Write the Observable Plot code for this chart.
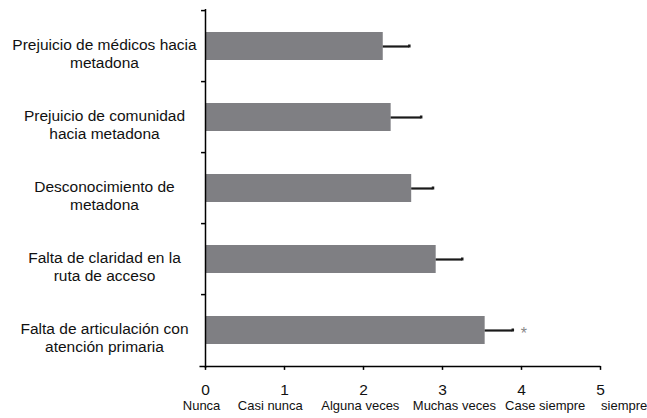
<!DOCTYPE html>
<html>
<head>
<meta charset="utf-8">
<script src="https://cdn.jsdelivr.net/npm/d3@7"></script>
<script src="https://cdn.jsdelivr.net/npm/@observablehq/plot@0.6"></script>
<style>
  html, body { margin: 0; padding: 0; background: #fff; }
  svg { font-family: "Liberation Sans", Arial, sans-serif; }
</style>
</head>
<body>
<div id="chart"></div>
<script>
const categories = [
  "Prejuicio de médicos hacia\nmetadona",
  "Prejuicio de comunidad\nhacia metadona",
  "Desconocimiento de\nmetadona",
  "Falta de claridad en la\nruta de acceso",
  "Falta de articulación con\natención primaria"
];
const means = [2.25, 2.35, 2.61, 2.92, 3.54];
const errors = [0.33, 0.38, 0.27, 0.33, 0.35];
const significant = [false, false, false, false, true];
const xTicks = [0, 1, 2, 3, 4, 5];
const scaleLabels = ["Nunca", "Casi nunca", "Alguna veces", "Muchas veces", "Case siempre", "siempre"];
const scaleLabelX = [-0.05, 0.82, 1.96, 3.15, 4.30, 5.30];

const data = categories.map((c, i) => ({c, m: means[i], e: errors[i], hi: means[i] + errors[i], sig: significant[i]}));
const scaleData = scaleLabels.map((l, i) => ({l, x: scaleLabelX[i]}));

const W = 647, H = 418, mT = 9, mB = 50, mL = 205, mR = 47;
const step = (H - mT - mB) / categories.length;

const chart = Plot.plot({
  width: W,
  height: H,
  marginTop: mT,
  marginBottom: mB,
  marginLeft: mL,
  marginRight: mR,
  style: {fontFamily: "Liberation Sans, Arial, sans-serif", color: "#000", background: "#fff"},
  x: {domain: [0, 5]},
  y: {domain: categories, paddingInner: 0.6, paddingOuter: 0.3, axis: null},
  marks: [
    Plot.barX(data, {x: "m", y: "c", fill: "#7f7f83"}),
    Plot.ruleY(data, {y: "c", x1: "m", x2: "hi", stroke: "#1a1a1a", strokeWidth: 2.2}),
    Plot.tickX(data, {x: "hi", y: "c", stroke: "#1a1a1a", strokeWidth: 2.5, insetTop: 12.5, insetBottom: 12.5}),
    Plot.text(data.filter(d => d.sig), {x: "hi", y: "c", text: () => "*", dx: 11, dy: 3, fill: "#888", fontSize: 16}),
    Plot.text(data, {y: "c", text: "c", frameAnchor: "left", dx: -101, dy: 7, textAnchor: "middle", fontSize: 15.5, lineHeight: 1.17, fill: "#111"}),
    Plot.ruleY(data, {y: "c", x1: -0.05, x2: 0, dy: -step / 2, stroke: "#000", strokeWidth: 1.5}),
    Plot.ruleX([0], {stroke: "#000", strokeWidth: 1.5}),
    Plot.ruleY([categories[categories.length - 1]], {y: d => d, x1: -0.07, x2: 5, dy: step / 2, stroke: "#000", strokeWidth: 1.5}),
    Plot.tickX(xTicks, {x: d => d, y: () => categories[categories.length - 1], dy: step / 2 + 2, insetTop: 12, insetBottom: 12, stroke: "#000", strokeWidth: 1.5}),
    Plot.axisX(xTicks, {tickSize: 0, tickPadding: 15, fontSize: 15.5, fill: "#111", tickFormat: d => String(d)}),
    Plot.text(scaleData, {x: "x", text: "l", frameAnchor: "bottom", dy: 41, fontSize: 13, fill: "#111"})
  ]
});
document.getElementById("chart").appendChild(chart);
</script>
</body>
</html>
